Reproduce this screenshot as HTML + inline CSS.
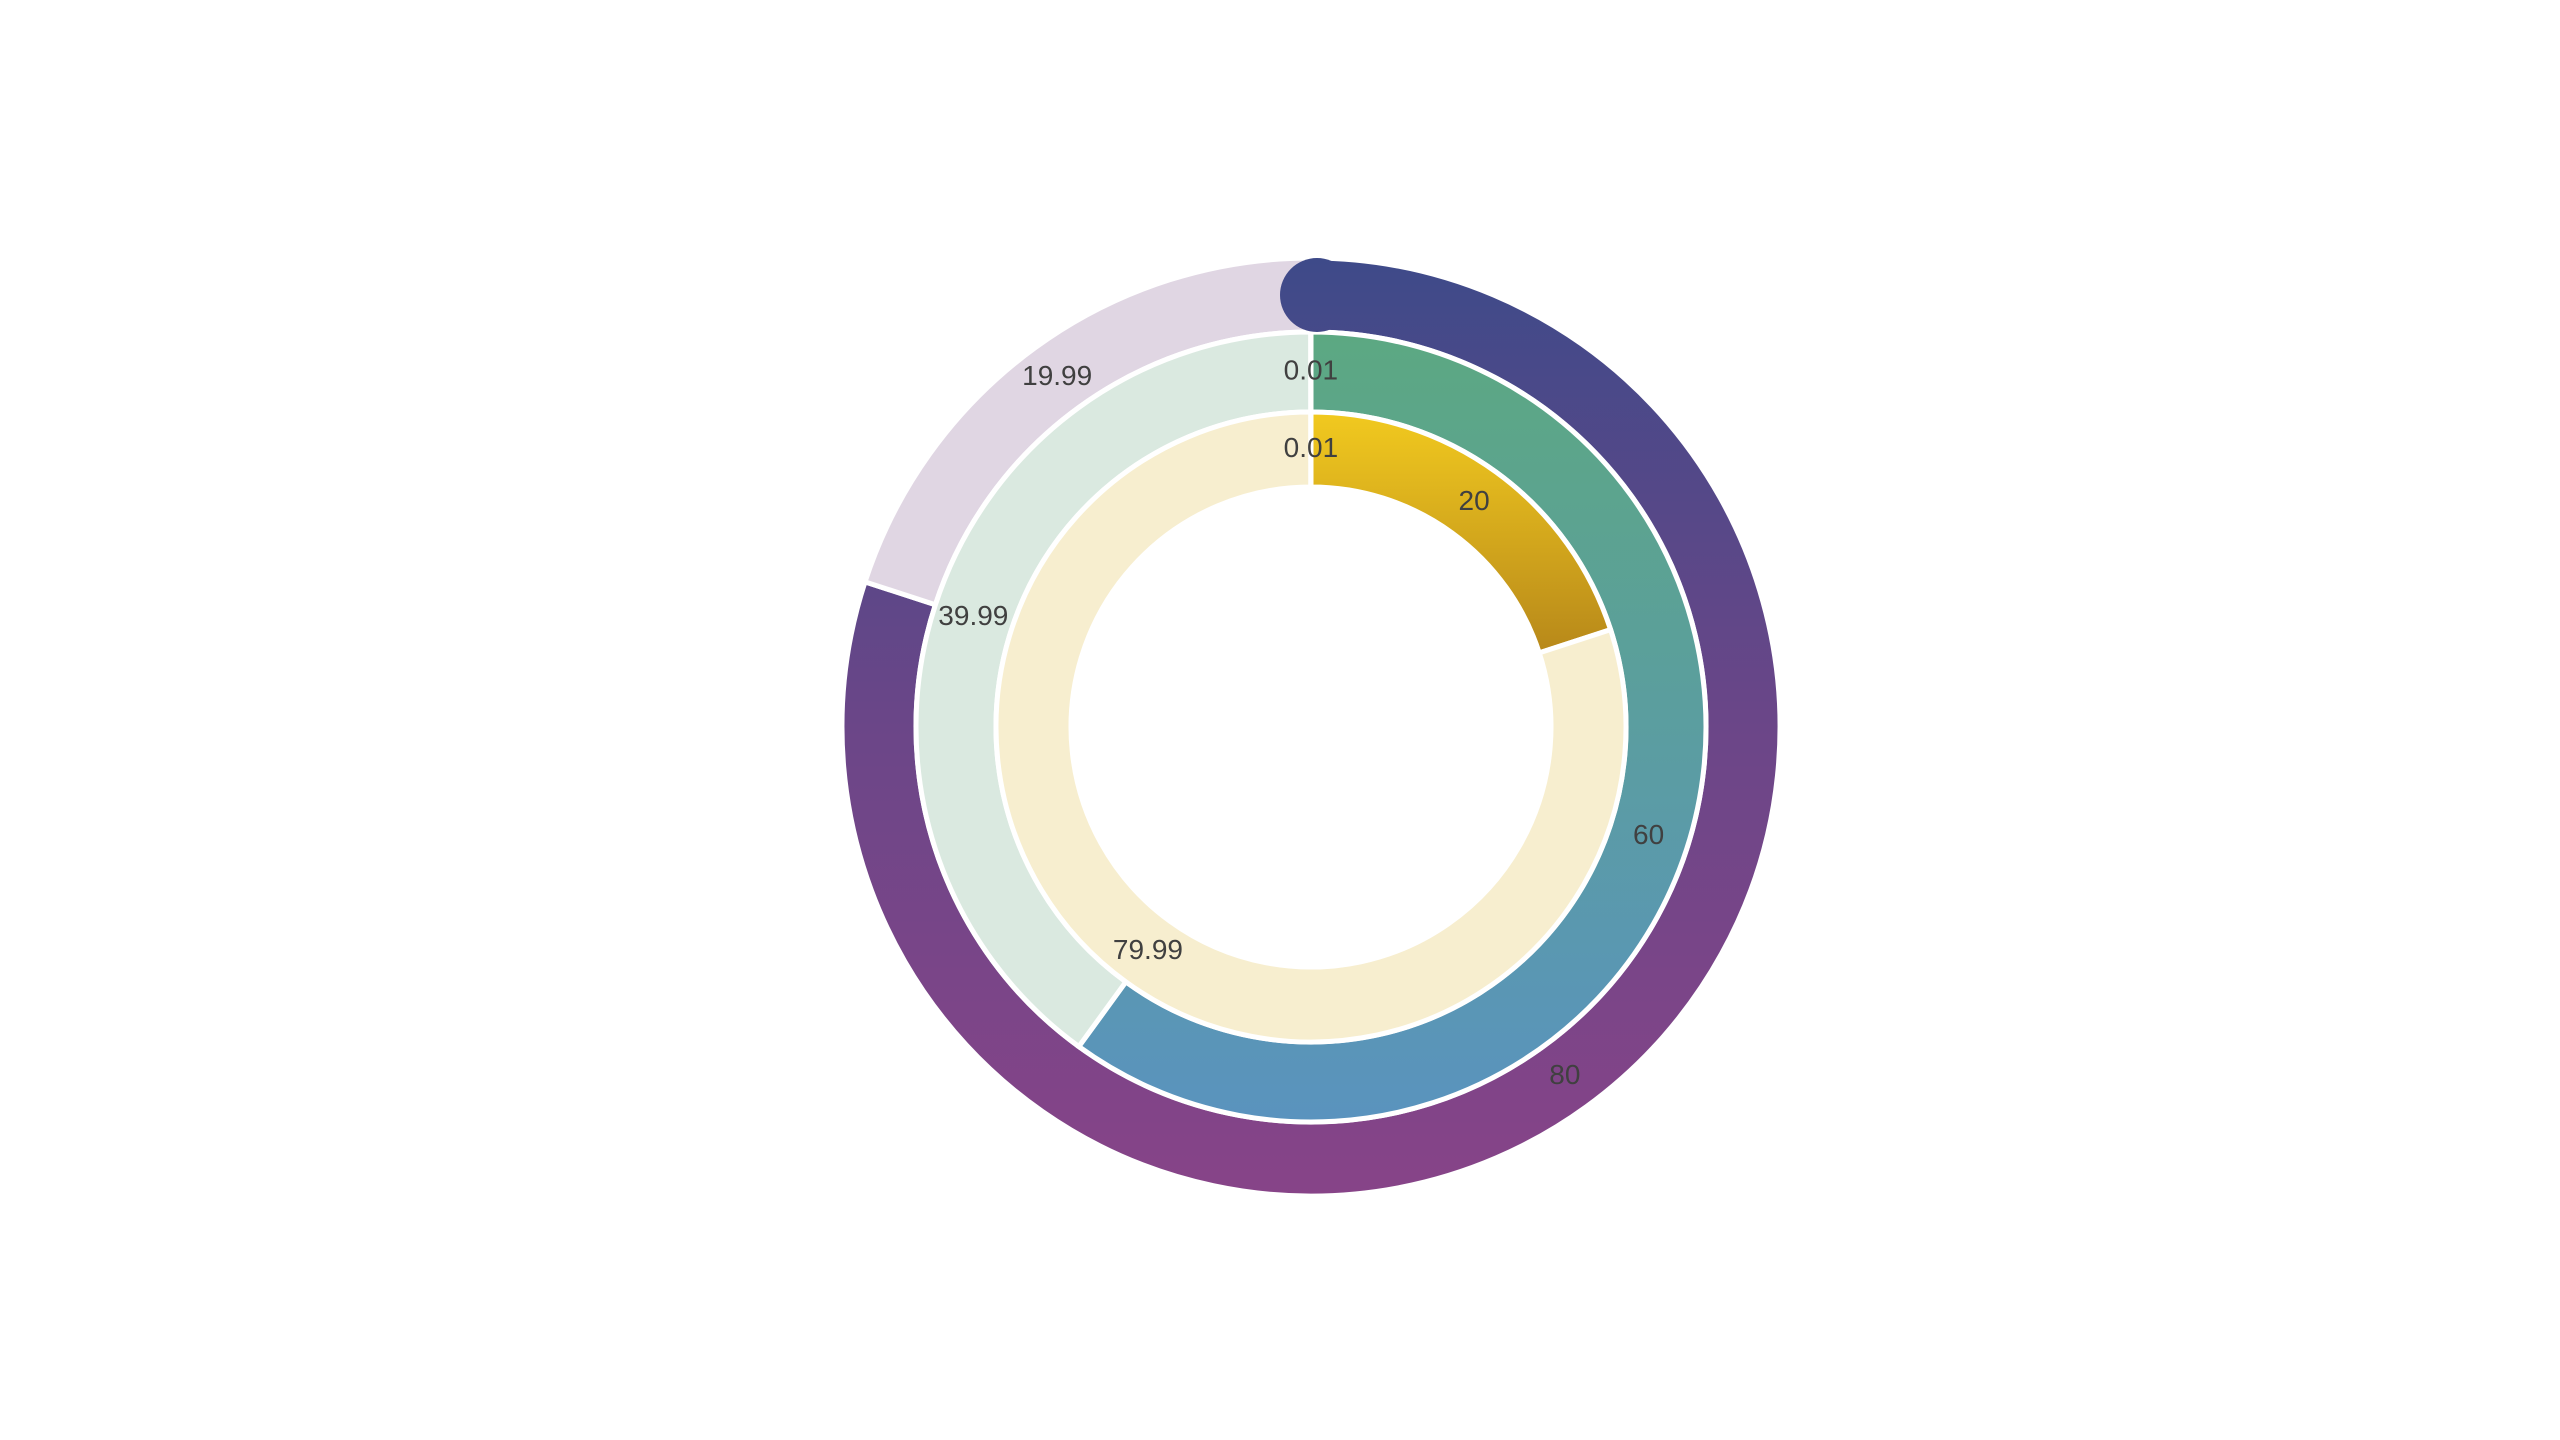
<!DOCTYPE html>
<html><head><meta charset="utf-8"><style>
html,body{margin:0;padding:0;background:#fff;width:2560px;height:1440px;overflow:hidden}
svg text{font-family:"Liberation Sans",sans-serif;font-size:28px;fill:#404040;text-anchor:middle;dominant-baseline:middle}
</style></head><body>
<svg id="chart" width="2560" height="1440" viewBox="0 0 2560 1440">
<defs>
<linearGradient id="gOuter" gradientUnits="userSpaceOnUse" x1="0" y1="258" x2="0" y2="1196"><stop offset="0" stop-color="#3e4a89"/><stop offset="0.5" stop-color="#6b4688"/><stop offset="1" stop-color="#874488"/></linearGradient>
<linearGradient id="gMid" gradientUnits="userSpaceOnUse" x1="0" y1="334" x2="0" y2="1120"><stop offset="0" stop-color="#5ca882"/><stop offset="1" stop-color="#5a93be"/></linearGradient>
<linearGradient id="gIn" gradientUnits="userSpaceOnUse" x1="0" y1="414" x2="0" y2="650"><stop offset="0" stop-color="#f1c91f"/><stop offset="1" stop-color="#b8891a"/></linearGradient>
</defs>
</svg>
<script>
const outerValues=[80,19.99];
const middleValues=[60,39.99,0.01];
const innerValues=[20,79.99,0.01];
const outerLabels=["80","19.99"];
const middleLabels=["60","39.99","0.01"];
const innerLabels=["20","79.99","0.01"];
const cx=1311,cy=727;
const rings=[
 {vals:outerValues,labels:outerLabels,r0:395,r1:469,fills:["url(#gOuter)","#e0d6e3"],name:"outer"},
 {vals:middleValues,labels:middleLabels,r0:315,r1:395,fills:["url(#gMid)","#dae9e0","#dae9e0"],name:"middle"},
 {vals:innerValues,labels:innerLabels,r0:240,r1:315,fills:["url(#gIn)","#f7eecf","#f7eecf"],name:"inner"}];
const svg=document.getElementById('chart');
const NS='http://www.w3.org/2000/svg';
function pt(r,a){return [cx+r*Math.sin(a),cy-r*Math.cos(a)];}
rings.forEach(ring=>{
 const total=ring.vals.reduce((a,b)=>a+b,0);
 let acc=0;
 ring.mid=[];
 ring.vals.forEach((v,i)=>{
  const a0=acc/total*2*Math.PI, a1=(acc+v)/total*2*Math.PI; acc+=v;
  const large=(a1-a0)>Math.PI?1:0;
  const p0=pt(ring.r1,a0),p1=pt(ring.r1,a1),p2=pt(ring.r0,a1),p3=pt(ring.r0,a0);
  const path=document.createElementNS(NS,'path');
  path.setAttribute('d',`M${p0}A${ring.r1},${ring.r1} 0 ${large} 1 ${p1}L${p2}A${ring.r0},${ring.r0} 0 ${large} 0 ${p3}Z`);
  path.setAttribute('fill',ring.fills[i]);
  path.setAttribute('stroke','#fff');
  path.setAttribute('stroke-width','5');
  
  
  svg.appendChild(path);
  ring.mid.push((a0+a1)/2);
 });
});
// round cap at start of outer main slice
{
 const ring=rings[0];
 const c=pt((ring.r0+ring.r1)/2,0);
 const cap=document.createElementNS(NS,'circle');
 cap.setAttribute('cx',c[0]+6);cap.setAttribute('cy',c[1]);cap.setAttribute('r',(ring.r1-ring.r0)/2);
 cap.setAttribute('fill','url(#gOuter)');
 
 
 svg.appendChild(cap);
}
rings.forEach(ring=>{
 ring.mid.forEach((m,i)=>{
  const p=pt((ring.r0+ring.r1)/2,m);
  const t=document.createElementNS(NS,'text');
  t.setAttribute('x',p[0]);t.setAttribute('y',p[1]);
  t.textContent=ring.labels[i];
  
  
  svg.appendChild(t);
 });
});
</script>
</body></html>
